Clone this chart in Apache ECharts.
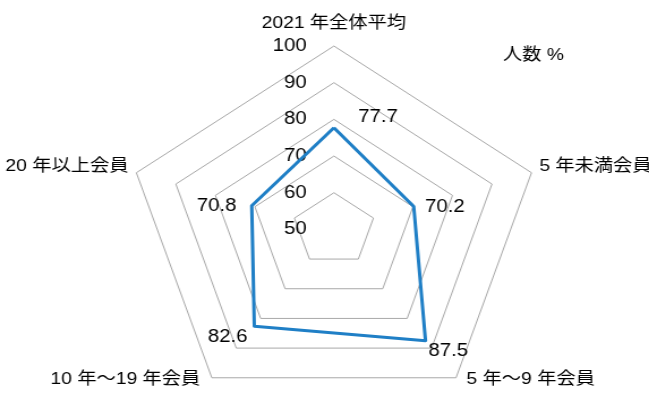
<!DOCTYPE html>
<html>
<head>
<meta charset="utf-8">
<script src="https://cdn.jsdelivr.net/npm/echarts@6/dist/echarts.min.js"></script>
<style>
  html, body { margin: 0; padding: 0; background: #fff; overflow: hidden; width: 649px; height: 393px; }
  /* the chart is drawn a little narrower and widened to the page width */
  #chart { width: 573px; height: 393px; transform: scaleX(1.1327); transform-origin: 0 0; }
</style>
</head>
<body>
<div id="chart"></div>
<script>
// indicator order runs counter-clockwise from the top
const indicatorNames = ['2021 年全体平均', '20 年以上会員', '10 年～19 年会員', '5 年～9 年会員', '5 年未満会員'];
const memberShare = [77.7, 70.8, 82.6, 87.5, 70.2];
const scaleMin = 50;
const scaleMax = 100;
const scaleSplits = 5;
const unitLabel = '人数 %';

const FONT = "'Liberation Sans', 'Noto Sans CJK JP', sans-serif";
const INK = '#000000';
const BLUE = '#1f7fc6';

// per-axis nudges for the indicator names [top, left, bottom-left, bottom-right, right]
const namePads = [
  [0, 0, 12, 0],
  [0, 5, 11, 0],
  [0, 9, 0, 0],
  [0, 0, 0, 8],
  [0, 0, 11, 5]
];
// per-point nudges for the value labels
const valuePads = [
  [0, 0, 21, 78],
  [0, 62, 0, 0],
  [21, 47, 0, 0],
  [20, 0, 0, 40],
  [1, 0, 0, 55]
];

const nameRich = {};
namePads.forEach((p, i) => {
  nameRich['n' + i] = { padding: p, fontSize: 17, fontFamily: FONT, color: INK };
});
const valueRich = {};
valuePads.forEach((p, i) => {
  valueRich['v' + i] = { padding: p, fontSize: 18, fontFamily: FONT, color: INK };
});

const chart = echarts.init(document.getElementById('chart'));
chart.setOption({
  animation: false,
  backgroundColor: '#ffffff',
  radar: {
    center: [294.8, 229.4],
    radius: 183.4,
    startAngle: 90,
    shape: 'polygon',
    splitNumber: scaleSplits,
    nameGap: 2,
    axisName: {
      color: INK,
      fontSize: 17,
      fontFamily: FONT,
      formatter: (name) => '{n' + indicatorNames.indexOf(name) + '|' + name + '}',
      rich: nameRich
    },
    axisLine: { show: false },
    axisTick: { show: false },
    axisLabel: { show: false },
    splitArea: { show: false },
    splitLine: { lineStyle: { color: '#a8a8a8', width: 1 } },
    indicator: indicatorNames.map((name, i) => {
      const ind = { name: name, min: scaleMin, max: scaleMax };
      if (i === 0) {
        ind.axisLabel = {
          show: true, margin: 24, color: INK, fontSize: 18, fontFamily: FONT,
          showMinLabel: true, showMaxLabel: true
        };
      }
      return ind;
    })
  },
  graphic: [{
    type: 'text',
    left: 444,
    top: 47,
    style: { text: unitLabel, fontSize: 17, fontFamily: FONT, fill: INK }
  }],
  series: [{
    type: 'radar',
    symbol: 'circle',
    symbolSize: 1,
    itemStyle: { color: BLUE },
    lineStyle: { color: BLUE, width: 3 },
    label: {
      show: true,
      position: 'inside',
      formatter: (p) => {
        const v = Array.isArray(p.value) ? p.value[p.dimensionIndex] : p.value;
        const i = memberShare.indexOf(v);
        return '{v' + i + '|' + v.toFixed(1) + '}';
      },
      rich: valueRich
    },
    data: [{ value: memberShare, name: '人数' }]
  }]
});
</script>
</body>
</html>
